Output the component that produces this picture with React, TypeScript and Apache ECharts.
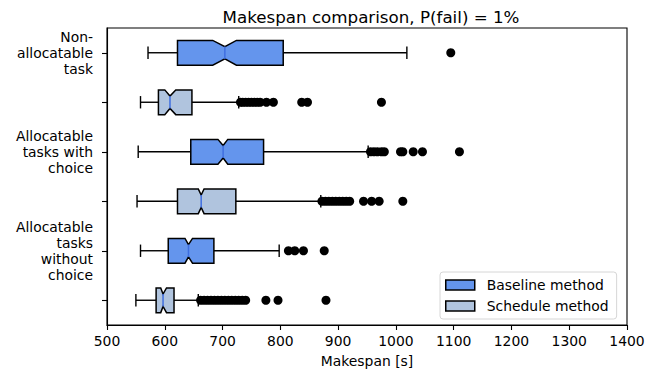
import React, { useEffect, useRef } from "react";
import * as echarts from "echarts";

const categoryLabels = [
  "Non-\nallocatable\ntask",
  "",
  "Allocatable\ntasks with\nchoice",
  "",
  "Allocatable\ntasks\nwithout\nchoice",
  "",
];
const xTicks = [500, 600, 700, 800, 900, 1000, 1100, 1200, 1300, 1400];

// [categoryIndex, whiskerLow, q1, notchLow, median, notchHigh, q3, whiskerHigh]
const baselineStats = [
  [0, 571, 622, 683, 704, 724, 805, 1019],
  [2, 554, 645, 692, 701, 709, 771, 952],
  [4, 558, 606, 635, 641, 648, 685, 798],
];
const scheduleStats = [
  [1, 558, 589, 600, 609, 619, 647, 728],
  [3, 552, 622, 658, 663, 668, 723, 870],
  [5, 550, 585, 593, 597, 603, 616, 658],
];

const outliers0 = [1095];
const outliers1 = [731, 735, 740, 745, 750, 755, 760, 765, 776, 788, 837, 847, 975];
const outliers2 = [956, 962, 968, 975, 980, 1008, 1012, 1030, 1046, 1110];
const outliers3 = [872, 878, 884, 890, 896, 902, 908, 914, 920, 944, 958, 971, 1012];
const outliers4 = [814, 825, 840, 876];
const outliers5 = [662, 668, 674, 680, 686, 692, 698, 704, 710, 716, 722, 728, 734, 740, 775, 796, 879];
const outlierGroups = [outliers0, outliers1, outliers2, outliers3, outliers4, outliers5];

const FONT = "DejaVu Sans";
const BASE_COLOR = "#6495ED";
const SCHED_COLOR = "#B0C4DE";
const MEDIAN_COLOR = "#3f6ee0";

function makeRenderItem(fill: string) {
  return (params: any, api: any) => {
    const cat = api.value(0);
    const wl = api.value(1);
    const q1 = api.value(2);
    const nl = api.value(3);
    const med = api.value(4);
    const nh = api.value(5);
    const q3 = api.value(6);
    const wh = api.value(7);
    const band = api.size([0, 1])[1];
    const h = band * 0.5;
    const y = api.coord([med, cat])[1];
    const px = (v: number) => api.coord([v, cat])[0];
    const top = y - h / 2;
    const bot = y + h / 2;
    const nt = y - h / 4;
    const nb = y + h / 4;
    const lineStyle = { stroke: "#000", lineWidth: 1.4 };
    return {
      type: "group",
      children: [
        { type: "line", shape: { x1: px(wl), y1: y, x2: px(q1), y2: y }, style: lineStyle },
        { type: "line", shape: { x1: px(q3), y1: y, x2: px(wh), y2: y }, style: lineStyle },
        { type: "line", shape: { x1: px(wl), y1: nt, x2: px(wl), y2: nb }, style: lineStyle },
        { type: "line", shape: { x1: px(wh), y1: nt, x2: px(wh), y2: nb }, style: lineStyle },
        {
          type: "polygon",
          shape: {
            points: [
              [px(q1), top],
              [px(nl), top],
              [px(med), nt],
              [px(nh), top],
              [px(q3), top],
              [px(q3), bot],
              [px(nh), bot],
              [px(med), nb],
              [px(nl), bot],
              [px(q1), bot],
            ],
          },
          style: { fill, stroke: "#000", lineWidth: 1.5 },
        },
        {
          type: "line",
          shape: { x1: px(med), y1: nt, x2: px(med), y2: nb },
          style: { stroke: MEDIAN_COLOR, lineWidth: 1.5 },
        },
      ],
    };
  };
}

export default function App() {
  const ref = useRef<HTMLDivElement>(null);
  useEffect(() => {
    if (!ref.current) return;
    const chart = echarts.init(ref.current, null, { renderer: "svg" });
    const outlierData: number[][] = [];
    outlierGroups.forEach((g, i) => g.forEach((v) => outlierData.push([v, i])));
    chart.setOption({
      animation: false,
      textStyle: { fontFamily: FONT },
      title: {
        text: "Makespan comparison, P(fail) = 1%",
        left: 366,
        textAlign: "center",
        top: 3,
        textStyle: { fontFamily: FONT, fontSize: 16.7, fontWeight: "normal", color: "#000" },
      },
      grid: {
        left: 107,
        right: 35,
        top: 28,
        bottom: 50,
        show: true,
        borderColor: "#000",
        borderWidth: 1.1,
        backgroundColor: "transparent",
      },
      legend: {
        orient: "vertical",
        left: 440,
        top: 272,
        backgroundColor: "#fff",
        borderColor: "#d6d6d6",
        borderWidth: 1,
        borderRadius: 3,
        padding: [6, 8, 6, 5],
        itemGap: 7,
        itemWidth: 29,
        itemHeight: 10,
        icon: "rect",
        textStyle: { fontFamily: FONT, fontSize: 13.9, color: "#000", padding: [0, 0, 0, 7] },
        data: [
          { name: "Baseline method", itemStyle: { color: BASE_COLOR, borderColor: "#000", borderWidth: 1.5 } },
          { name: "Schedule method", itemStyle: { color: SCHED_COLOR, borderColor: "#000", borderWidth: 1.5 } },
        ],
      },
      xAxis: {
        type: "value",
        min: 500,
        max: 1400,
        interval: 100,
        name: "Makespan [s]",
        nameLocation: "middle",
        nameGap: 29,
        nameTextStyle: { fontFamily: FONT, fontSize: 13.9, color: "#000" },
        axisLine: { show: true, lineStyle: { color: "#000", width: 1.1 } },
        axisTick: { show: true, length: 5, lineStyle: { color: "#000", width: 1.1 } },
        axisLabel: {
          fontFamily: FONT,
          fontSize: 13.9,
          color: "#000",
          margin: 9,
          formatter: (v: number) => (xTicks.includes(v) ? String(v) : ""),
        },
        splitLine: { show: false },
      },
      yAxis: {
        type: "category",
        inverse: true,
        data: categoryLabels.map((_, i) => String(i)),
        axisLine: { show: true, lineStyle: { color: "#000", width: 1.1 } },
        axisTick: { show: true, alignWithLabel: true, length: 5, lineStyle: { color: "#000", width: 1.1 } },
        axisLabel: {
          fontFamily: FONT,
          fontSize: 13.9,
          lineHeight: 16,
          color: "#000",
          align: "right",
          margin: 14,
          formatter: (_v: string, idx: number) => categoryLabels[idx],
        },
        splitLine: { show: false },
      },
      series: [
        {
          name: "Baseline method",
          type: "custom",
          renderItem: makeRenderItem(BASE_COLOR),
          itemStyle: { color: BASE_COLOR },
          encode: { x: [1, 2, 3, 4, 5, 6, 7], y: 0 },
          data: baselineStats,
          z: 2,
        },
        {
          name: "Schedule method",
          type: "custom",
          renderItem: makeRenderItem(SCHED_COLOR),
          itemStyle: { color: SCHED_COLOR },
          encode: { x: [1, 2, 3, 4, 5, 6, 7], y: 0 },
          data: scheduleStats,
          z: 2,
        },
        {
          name: "Outliers",
          type: "scatter",
          symbol: "circle",
          symbolSize: 9,
          itemStyle: { color: "#000", opacity: 1 },
          data: outlierData,
          z: 3,
        },
      ],
    });
    return () => chart.dispose();
  }, []);
  return (
    <div
      ref={ref}
      style={{ position: "fixed", left: 0, top: 0, width: 662, height: 375, background: "#fff" }}
    />
  );
}
